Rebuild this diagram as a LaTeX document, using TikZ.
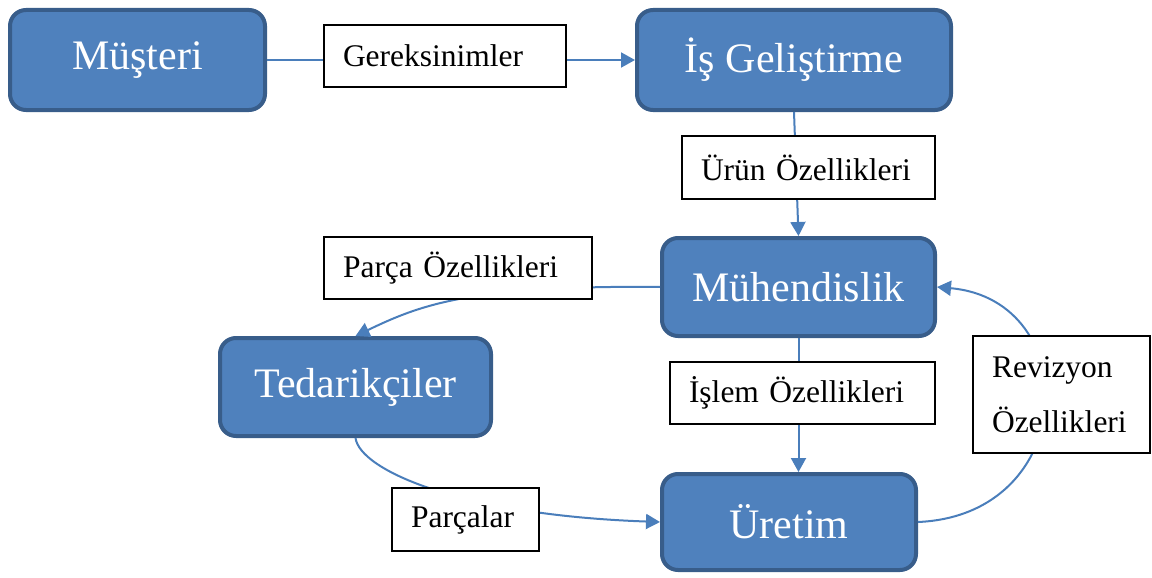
\documentclass[tikz,border=0pt]{standalone}
\usepackage{fontspec}
\setmainfont{Liberation Serif}
\usetikzlibrary{arrows.meta}
\definecolor{boxfill}{RGB}{79,129,189}
\definecolor{boxedge}{RGB}{56,93,138}
\definecolor{linkcol}{RGB}{74,126,187}

\begin{document}
\begin{tikzpicture}[x=1pt,y=-1pt,
  unit/.style={draw=boxedge, fill=boxfill, line width=4pt, rounded corners=16pt,
    text=white, font=\fontsize{42}{50}\selectfont, inner sep=0pt},
  tag/.style={draw=black, fill=white, line width=1.2pt,
    font=\fontsize{31.5}{55}\selectfont, inner xsep=19pt, inner ysep=0pt, align=left},
  link/.style={draw=linkcol, line width=2pt, -{Triangle[length=14pt,width=15pt]}}]

\useasboundingbox (0,0) rectangle (1152,578);

% departments
\node[unit, minimum width=255pt, minimum height=100pt] (mus) at (137.5,60) {Müşteri};
\node[unit, minimum width=314pt, minimum height=100pt] (isg) at (794,60) {İş Geliştirme};
\node[unit, minimum width=273pt, minimum height=98pt]  (muh) at (798.5,287) {Mühendislik};
\node[unit, minimum width=271pt, minimum height=98pt]  (ted) at (355.5,387) {Tedarikçiler};
\node[unit, minimum width=254pt, minimum height=96pt]  (ure) at (789,522) {Üretim};

% flows between departments
\draw[link] (mus.east) -- (isg.west);
\draw[link] (isg.south) -- (muh.north);
\draw[link] (muh.west) .. controls (470,285) and (420,305) .. (ted.north);
\draw[link] (muh.south) -- (muh.south |- ure.north);
\draw[link] (ted.south) .. controls (360,470) and (460,515) .. (ure.west);
\draw[link] (ure.east) .. controls (1080,515) and (1085,300) .. (muh.east);

% what travels along each flow
\node[tag, text width=204pt, minimum height=62pt] (ger) at (445,56) {Gereksinimler};
\node[tag, text width=215pt, minimum height=63pt] (urun) at (808.5,167.5) {Ürün Özellikleri};
\node[tag, text width=230pt, minimum height=62pt] (pozl) at (458,268) {Parça Özellikleri};
\node[tag, text width=227pt, minimum height=62pt] (islem) at (802.5,393) {İşlem Özellikleri};
\node[tag, text width=109pt, minimum height=63pt] (parca) at (465.5,519.5) {Parçalar};
\node[tag, text width=139pt, minimum height=117pt] (rev) at (1061.5,394.5) {Revizyon\\Özellikleri};
\end{tikzpicture}
\end{document}
